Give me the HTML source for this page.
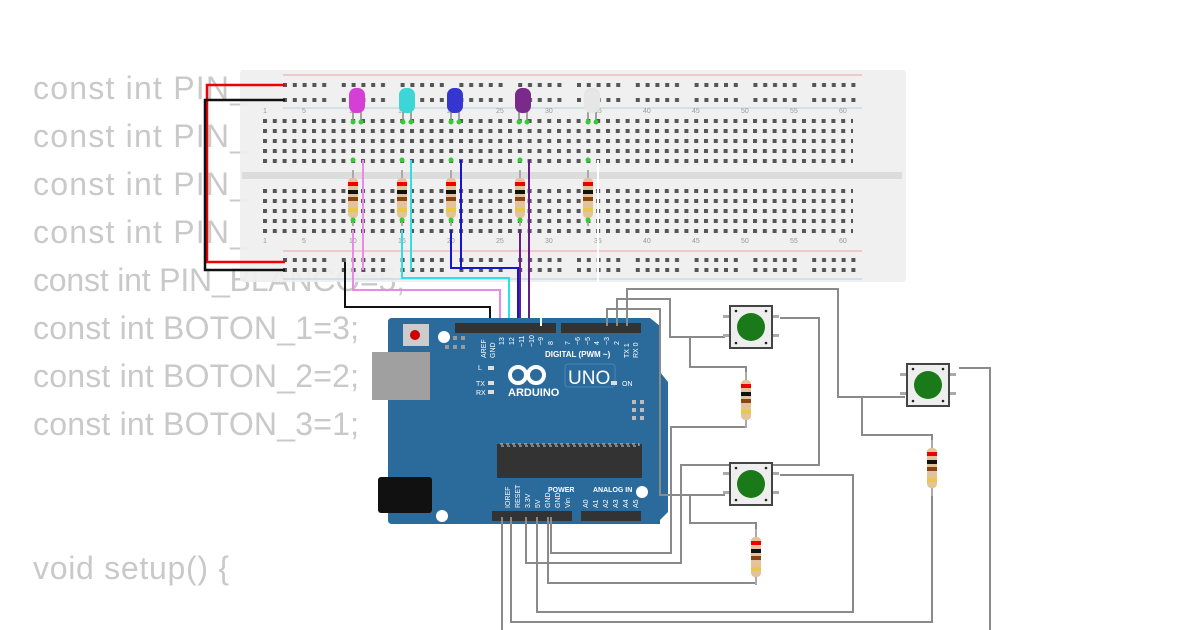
<!DOCTYPE html>
<html><head><meta charset="utf-8"><style>
body{margin:0;background:#fff;width:1200px;height:630px;overflow:hidden}
svg{display:block}
.code{font-family:"Liberation Sans",sans-serif;font-size:32px;fill:#c9c9c9}
.lbl{font-family:"Liberation Sans",sans-serif;fill:#fff;font-weight:bold}
.n{font-family:"Liberation Sans",sans-serif;font-size:7px;fill:#999}
.g{fill:none;stroke:#8a8a8a;stroke-width:2}
</style></head><body>
<svg width="1200" height="630" viewBox="0 0 1200 630" xmlns="http://www.w3.org/2000/svg">
<defs>
<pattern id="row" x="263" y="9" width="9.8" height="10" patternUnits="userSpaceOnUse"><rect x="0" y="0" width="4" height="4" fill="#555"/></pattern>
<pattern id="railA" x="283" y="3" width="58.8" height="10" patternUnits="userSpaceOnUse">
<rect x="0" y="0" width="4" height="4" fill="#555"/><rect x="9.8" y="0" width="4" height="4" fill="#555"/><rect x="19.6" y="0" width="4" height="4" fill="#555"/><rect x="29.4" y="0" width="4" height="4" fill="#555"/><rect x="39.2" y="0" width="4" height="4" fill="#555"/></pattern>
<pattern id="railB" x="283" y="8" width="58.8" height="10" patternUnits="userSpaceOnUse">
<rect x="0" y="0" width="4" height="4" fill="#555"/><rect x="9.8" y="0" width="4" height="4" fill="#555"/><rect x="19.6" y="0" width="4" height="4" fill="#555"/><rect x="29.4" y="0" width="4" height="4" fill="#555"/><rect x="39.2" y="0" width="4" height="4" fill="#555"/></pattern>
<g id="res"><line x1="0" y1="-8" x2="0" y2="48" stroke="#aaa" stroke-width="2"/><rect x="-5" y="0" width="10" height="40" rx="4" fill="#e3c49a"/><rect x="-5" y="4" width="10" height="4" fill="#e00"/><rect x="-5" y="12" width="10" height="4" fill="#111"/><rect x="-5" y="19" width="10" height="4" fill="#8b4513"/><rect x="-5" y="30" width="10" height="4" fill="#e8c84a"/></g>
<g id="btn"><rect x="-28" y="9" width="8" height="3" fill="#aaa"/><rect x="-28" y="28" width="8" height="3" fill="#aaa"/><rect x="20" y="9" width="8" height="3" fill="#aaa"/><rect x="20" y="28" width="8" height="3" fill="#aaa"/><rect x="-22" y="-1" width="44" height="44" fill="#444"/><rect x="-20" y="1" width="40" height="40" fill="#eee"/><circle cx="0" cy="21" r="14" fill="#1a7a1a"/><circle cx="-15" cy="5" r="1.3" fill="#222"/><circle cx="15" cy="5" r="1.3" fill="#222"/><circle cx="-15" cy="37" r="1.3" fill="#222"/><circle cx="15" cy="37" r="1.3" fill="#222"/></g>
</defs>
<!-- code text -->
<text class="code" x="33" y="99" textLength="215">const int PIN_</text>
<text class="code" x="33" y="147" textLength="215">const int PIN_</text>
<text class="code" x="33" y="195" textLength="215">const int PIN_</text>
<text class="code" x="33" y="243" textLength="215">const int PIN_</text>
<text class="code" x="33" y="291" textLength="372">const int PIN_BLANCO=5;</text>
<text class="code" x="33" y="339" textLength="326">const int BOTON_1=3;</text>
<text class="code" x="33" y="387" textLength="326">const int BOTON_2=2;</text>
<text class="code" x="33" y="435" textLength="326">const int BOTON_3=1;</text>
<text class="code" x="33" y="579" textLength="196">void setup() {</text>
<!-- breadboard -->
<rect x="240" y="70" width="666" height="212" rx="3" fill="#efefef" opacity="0.93"/>
<rect x="242" y="172" width="660" height="7" fill="#dcdcdc"/>
<line x1="283" y1="75" x2="862" y2="75" stroke="#e88" stroke-width="0.8"/>
<line x1="283" y1="108" x2="862" y2="108" stroke="#9cd" stroke-width="0.8"/>
<line x1="283" y1="251" x2="862" y2="251" stroke="#e88" stroke-width="0.8"/>
<line x1="283" y1="279" x2="862" y2="279" stroke="#9cd" stroke-width="0.8"/>
<rect x="283" y="83" width="580" height="4" fill="url(#railA)"/>
<rect x="283" y="98" width="580" height="4" fill="url(#railB)"/>
<rect x="283" y="258" width="580" height="4" fill="url(#railB)"/>
<rect x="283" y="268" width="580" height="4" fill="url(#railB)"/>
<rect x="263" y="119" width="590" height="44" fill="url(#row)"/>
<rect x="263" y="189" width="590" height="44" fill="url(#row)"/>
<g class="n">
<text x="263" y="113">1</text><text x="302" y="113">5</text><text x="349" y="113">10</text><text x="398" y="113">15</text><text x="447" y="113">20</text><text x="496" y="113">25</text><text x="545" y="113">30</text><text x="594" y="113">35</text><text x="643" y="113">40</text><text x="692" y="113">45</text><text x="741" y="113">50</text><text x="790" y="113">55</text><text x="839" y="113">60</text>
<text x="263" y="243">1</text><text x="302" y="243">5</text><text x="349" y="243">10</text><text x="398" y="243">15</text><text x="447" y="243">20</text><text x="496" y="243">25</text><text x="545" y="243">30</text><text x="594" y="243">35</text><text x="643" y="243">40</text><text x="692" y="243">45</text><text x="741" y="243">50</text><text x="790" y="243">55</text><text x="839" y="243">60</text>
</g>
<!-- power rail wires -->
<path d="M285 85 H207 V262 H285" fill="none" stroke="#e00" stroke-width="2.5"/>
<path d="M285 100 H205 V270 H285" fill="none" stroke="#111" stroke-width="2.5"/>
<!-- LEDs -->
<g>
<g transform="translate(357,0)"><line x1="-4" y1="112" x2="-4" y2="122" stroke="#888" stroke-width="1.5"/><line x1="4" y1="112" x2="4" y2="122" stroke="#888" stroke-width="1.5"/><rect x="-8" y="88" width="16" height="25" rx="7" fill="#d63fd6"/><circle cx="-4" cy="122" r="2.5" fill="#3c3"/><circle cx="4" cy="122" r="2.5" fill="#3c3"/></g>
<g transform="translate(407,0)"><line x1="-4" y1="112" x2="-4" y2="122" stroke="#888" stroke-width="1.5"/><line x1="4" y1="112" x2="4" y2="122" stroke="#888" stroke-width="1.5"/><rect x="-8" y="88" width="16" height="25" rx="7" fill="#3dd6d6"/><circle cx="-4" cy="122" r="2.5" fill="#3c3"/><circle cx="4" cy="122" r="2.5" fill="#3c3"/></g>
<g transform="translate(455,0)"><line x1="-4" y1="112" x2="-4" y2="122" stroke="#888" stroke-width="1.5"/><line x1="4" y1="112" x2="4" y2="122" stroke="#888" stroke-width="1.5"/><rect x="-8" y="88" width="16" height="25" rx="7" fill="#3535d0"/><circle cx="-4" cy="122" r="2.5" fill="#3c3"/><circle cx="4" cy="122" r="2.5" fill="#3c3"/></g>
<g transform="translate(523,0)"><line x1="-4" y1="112" x2="-4" y2="122" stroke="#888" stroke-width="1.5"/><line x1="4" y1="112" x2="4" y2="122" stroke="#888" stroke-width="1.5"/><rect x="-8" y="88" width="16" height="25" rx="7" fill="#7a2a8a"/><circle cx="-4" cy="122" r="2.5" fill="#3c3"/><circle cx="4" cy="122" r="2.5" fill="#3c3"/></g>
<g transform="translate(592,0)"><line x1="-4" y1="112" x2="-4" y2="122" stroke="#888" stroke-width="1.5"/><line x1="4" y1="112" x2="4" y2="122" stroke="#888" stroke-width="1.5"/><rect x="-8" y="88" width="16" height="25" rx="7" fill="#e6e6e6"/><circle cx="-4" cy="122" r="2.5" fill="#3c3"/><circle cx="4" cy="122" r="2.5" fill="#3c3"/></g>
</g>
<!-- breadboard resistors -->
<use href="#res" x="353" y="178"/><use href="#res" x="402" y="178"/><use href="#res" x="451" y="178"/><use href="#res" x="520" y="178"/><use href="#res" x="588" y="178"/>
<g fill="#3c3"><circle cx="353" cy="160" r="2.5"/><circle cx="353" cy="220" r="2.5"/><circle cx="402" cy="160" r="2.5"/><circle cx="402" cy="220" r="2.5"/><circle cx="451" cy="160" r="2.5"/><circle cx="451" cy="220" r="2.5"/><circle cx="520" cy="160" r="2.5"/><circle cx="520" cy="220" r="2.5"/><circle cx="588" cy="160" r="2.5"/><circle cx="588" cy="220" r="2.5"/></g>
<!-- colored wires -->
<g fill="none" stroke-width="2">
<path d="M363 160 V270" stroke="#e88ae8"/>
<path d="M353 230 V290 H500 V326" stroke="#e88ae8"/>
<path d="M411 160 V270" stroke="#2de0e8"/>
<path d="M402 230 V278 H509 V326" stroke="#2de0e8"/>
<path d="M461 160 V270" stroke="#1515d0"/>
<path d="M451 230 V268 H518 V326" stroke="#1515d0"/>
<path d="M529 160 V280" stroke="#6a1a8a"/>
<path d="M520 230 V326" stroke="#6a1a8a"/>
<path d="M529 280 V326" stroke="#6a1a8a"/>
<path d="M598 160 V282" stroke="#fff"/>
<path d="M345 262 V307 H490 V326" stroke="#111"/>
</g>
<!-- Arduino -->
<path d="M392 318 H650 L660 326 V372 L668 382 V512 L660 520 V524 H392 Q388 524 388 520 V322 Q388 318 392 318Z" fill="#2b6b9c"/>
<rect x="372" y="352" width="58" height="48" fill="#a0a0a0"/>
<rect x="378" y="477" width="54" height="36" rx="3" fill="#111"/>
<rect x="403" y="324" width="26" height="22" fill="#ccc"/><circle cx="415" cy="335" r="5" fill="#c00"/>
<g fill="#999"><rect x="445" y="336" width="4" height="4"/><rect x="453" y="336" width="4" height="4"/><rect x="461" y="336" width="4" height="4"/><rect x="445" y="345" width="4" height="4"/><rect x="453" y="345" width="4" height="4"/><rect x="461" y="345" width="4" height="4"/></g>
<circle cx="444" cy="337" r="6" fill="#fff"/><circle cx="642" cy="410" r="6" fill="#fff"/><circle cx="642" cy="492" r="6" fill="#fff"/><circle cx="442" cy="516" r="6" fill="#fff"/>
<rect x="455" y="323" width="101" height="10" fill="#333"/>
<rect x="561" y="323" width="80" height="10" fill="#333"/>
<rect x="492" y="511" width="80" height="10" fill="#333"/>
<rect x="581" y="511" width="60" height="10" fill="#333"/>
<rect x="497" y="444" width="145" height="34" fill="#333"/>
<rect x="500" y="444" width="139" height="2" fill="none" stroke="#ccc" stroke-dasharray="3 3"/>
<rect x="630" y="398" width="18" height="28" fill="#2b6b9c"/>
<g fill="#bbb"><rect x="632" y="400" width="4" height="4"/><rect x="640" y="400" width="4" height="4"/><rect x="632" y="408" width="4" height="4"/><rect x="640" y="408" width="4" height="4"/><rect x="632" y="416" width="4" height="4"/><rect x="640" y="416" width="4" height="4"/></g>
<text class="lbl" x="545" y="357" font-size="8">DIGITAL (PWM ~)</text>
<text class="lbl" x="508" y="396" font-size="11">ARDUINO</text>
<text x="568" y="384" font-family="Liberation Sans,sans-serif" font-size="19" fill="#fff">UNO</text>
<rect x="565" y="364" width="50" height="23" rx="3" fill="none" stroke="#4a85b5"/>
<g fill="none" stroke="#fff" stroke-width="4"><circle cx="518" cy="375" r="8"/><circle cx="536" cy="375" r="8"/></g>
<text class="lbl" x="548" y="492" font-size="7">POWER</text><text class="lbl" x="593" y="492" font-size="7">ANALOG IN</text>
<text x="478" y="370" font-family="Liberation Sans,sans-serif" font-size="7" fill="#fff">L</text>
<text x="476" y="386" font-family="Liberation Sans,sans-serif" font-size="7" fill="#fff">TX</text>
<text x="476" y="395" font-family="Liberation Sans,sans-serif" font-size="7" fill="#fff">RX</text>
<text x="622" y="386" font-family="Liberation Sans,sans-serif" font-size="7" fill="#fff">ON</text>
<g fill="#ddd"><rect x="488" y="366" width="6" height="4"/><rect x="488" y="381" width="6" height="4"/><rect x="488" y="390" width="6" height="4"/><rect x="611" y="381" width="6" height="4"/></g>
<g font-family="Liberation Sans,sans-serif" font-size="7" fill="#fff">
<text transform="translate(486,358) rotate(-90)">AREF</text><text transform="translate(495,358) rotate(-90)">GND</text><text transform="translate(504,345) rotate(-90)">13</text><text transform="translate(514,345) rotate(-90)">12</text><text transform="translate(524,347) rotate(-90)">~11</text><text transform="translate(534,347) rotate(-90)">~10</text><text transform="translate(543,345) rotate(-90)">~9</text><text transform="translate(553,345) rotate(-90)">8</text>
<text transform="translate(570,345) rotate(-90)">7</text><text transform="translate(580,345) rotate(-90)">~6</text><text transform="translate(590,345) rotate(-90)">~5</text><text transform="translate(599,345) rotate(-90)">4</text><text transform="translate(609,345) rotate(-90)">~3</text><text transform="translate(619,345) rotate(-90)">2</text><text transform="translate(629,358) rotate(-90)">TX 1</text><text transform="translate(638,358) rotate(-90)">RX 0</text>
<text transform="translate(510,508) rotate(-90)">IOREF</text><text transform="translate(520,508) rotate(-90)">RESET</text><text transform="translate(530,508) rotate(-90)">3.3V</text><text transform="translate(540,508) rotate(-90)">5V</text><text transform="translate(550,508) rotate(-90)">GND</text><text transform="translate(560,508) rotate(-90)">GND</text><text transform="translate(570,508) rotate(-90)">Vin</text>
<text transform="translate(588,508) rotate(-90)">A0</text><text transform="translate(598,508) rotate(-90)">A1</text><text transform="translate(608,508) rotate(-90)">A2</text><text transform="translate(618,508) rotate(-90)">A3</text><text transform="translate(628,508) rotate(-90)">A4</text><text transform="translate(638,508) rotate(-90)">A5</text>
</g>
<path d="M541 326 V290" stroke="#fff" stroke-width="2"/>
<!-- gray wires -->
<path class="g" d="M617 326 V299 H670 V337 H725"/>
<path class="g" d="M607 326 V309 H660 V495 H725"/>
<path class="g" d="M627 326 V289 H838 V397 H905"/>
<path class="g" d="M690 337 V367 H746 V380"/>
<path class="g" d="M746 417 V427 H671 V553 H551 V517"/>
<path class="g" d="M780 318 H819 V465 H681 V563 H526 V517"/>
<path class="g" d="M690 495 V523 H756 V537"/>
<path class="g" d="M756 573 V583 H548 V517"/>
<path class="g" d="M780 475 H853 V612 H537 V517"/>
<path class="g" d="M862 397 V435 H932 V448"/>
<path class="g" d="M932 483 V622 H511 V517"/>
<path class="g" d="M959 368 H990 V630"/>
<path class="g" d="M502 517 V630"/>
<!-- buttons & resistors -->
<use href="#btn" x="751" y="306"/>
<use href="#btn" x="751" y="463"/>
<use href="#btn" x="928" y="364"/>
<use href="#res" x="746" y="380"/>
<use href="#res" x="756" y="537"/>
<use href="#res" x="932" y="448"/>
</svg>
</body></html>
